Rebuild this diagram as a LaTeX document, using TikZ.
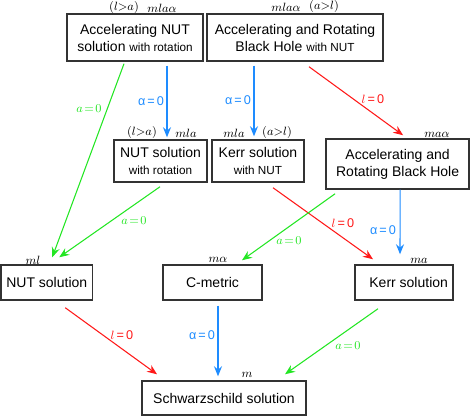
\documentclass[tikz,border=0pt]{standalone}
\usepackage{amsmath}
\usepackage{amssymb}
\usepackage{fontspec}
\setsansfont{Liberation Sans}
\usetikzlibrary{arrows.meta,calc}

\definecolor{ared}{RGB}{255,25,25}
\definecolor{agreen}{RGB}{35,230,35}
\definecolor{ablue}{RGB}{30,140,255}

\newcommand{\smalltxt}[1]{{\fontsize{8.8}{10}\selectfont #1}}

\tikzset{
  box/.style={draw=black!80, line width=1.1pt, inner sep=0pt, align=center,
    font=\sffamily\fontsize{10.5}{12.75}\selectfont},
  arr/.style={line width=0.8pt, -{Stealth[length=7.5pt,width=6pt,inset=2.5pt]}},
  mlab/.style={inner sep=0pt, font=\fontsize{9}{10}\selectfont},
  glab/.style={inner sep=0pt, text=agreen, font=\fontsize{9.5}{11}\selectfont},
  slab/.style={inner sep=0pt, font=\sffamily\fontsize{9.5}{11}\selectfont},
}

\begin{document}
\begin{tikzpicture}[x=0.75pt,y=0.75pt,yscale=-1,xscale=1]
\useasboundingbox (0,0) rectangle (470,416);

% Boxes
\draw (135,37.5) node [box, minimum width=102pt, minimum height=35.25pt] (b1) {Accelerating NUT\\solution \smalltxt{with rotation}};
\draw (295,37.5) node [box, minimum width=132pt, minimum height=35.25pt] (b2) {Accelerating and Rotating\\Black Hole \smalltxt{with NUT}};
\draw (160.5,161) node [box, minimum width=69.75pt, minimum height=31.5pt] (b3) {NUT solution\\\smalltxt{with rotation}};
\draw (258,161) node [box, minimum width=69pt, minimum height=31.5pt] (b4) {Kerr solution\\\smalltxt{with NUT}};
\draw (397.6,164) node [box, minimum width=107.4pt, minimum height=37.5pt] (b5) {Accelerating and\\Rotating Black Hole};
\draw (46.75,282.5) node [box, minimum width=68.9pt, minimum height=26.25pt] (b6) {NUT solution};
\draw (212.5,282.5) node [box, minimum width=74.25pt, minimum height=26.25pt] (b7) {C-metric};
\draw (404,282.5) node [box, minimum width=73.5pt, minimum height=26.25pt] (b8) {\hspace{7pt}Kerr solution};
\draw (224,398) node [box, minimum width=123pt, minimum height=25.5pt] (b9) {Schwarzschild solution};

% Parameters above the boxes
\draw (124,8) node [mlab] (p1a) {$(l{>}a)$};
\draw (162,8) node [mlab] (p1b) {$mla\alpha$};
\draw (286,7) node [mlab] (p2a) {$mla\alpha$};
\draw (324,7) node [mlab] (p2b) {$(a{>}l)$};
\draw (142,133) node [mlab] (p3a) {$(l{>}a)$};
\draw (186,133) node [mlab] (p3b) {$mla$};
\draw (234,133) node [mlab] (p4a) {$mla$};
\draw (277,133) node [mlab] (p4b) {$(a{>}l)$};
\draw (437,135) node [mlab] (p5) {$ma\alpha$};
\draw (33,260) node [mlab] (p6) {$ml$};
\draw (218,260) node [mlab] (p7) {$m\alpha$};
\draw (419,261) node [mlab] (p8) {$ma$};
\draw (247,375) node [mlab] (p9) {$m$};

% alpha = 0
\draw [arr, ablue] ($(b1.south)+(32,4)$) -- ($(b3.north)+(6.5,-2)$);
\draw [arr, ablue] ($(b2.south)+(-41,4)$) -- ($(b4.north)+(-4,-3)$);
\draw [arr, ablue] ($(b5.south)+(2.5,0)$) -- ($(b8.north)+(-4,-10)$);
\draw [arr, ablue] ($(b7.south)+(5.5,5)$) -- ($(b9.north)+(-6,-4)$);
% l = 0
\draw [arr, ared] ($(b2.south)+(14,5)$) -- ($(b5.north)+(5.5,-3)$);
\draw [arr, ared] ($(b4.south)+(15,5)$) -- ($(b8.north)+(-31,-5)$);
\draw [arr, ared] ($(b6.south)+(18.5,7)$) -- ($(b9.north)+(-67,-6)$);
% a = 0
\draw [arr, agreen] ($(b1.south)+(-11,2)$) -- ($(b6.north)+(5.5,-7)$);
\draw [arr, agreen] ($(b3.south)+(-0.5,4)$) -- ($(b6.north)+(12.5,-7)$);
\draw [arr, agreen] ($(b5.south)+(-62.5,4)$) -- ($(b7.north)+(29.5,-4)$);
\draw [arr, agreen] ($(b8.south)+(-26,8)$) -- ($(b9.north)+(61,-6)$);

% Edge labels
\draw (151,101) node [slab, text=ablue] (e1) {α\,=\,0};
\draw (238,100) node [slab, text=ablue] (e2) {α\,=\,0};
\draw (383,230) node [slab, text=ablue] (e3) {α\,=\,0};
\draw (202,335) node [slab, text=ablue] (e4) {α\,=\,0};
\draw (373,99) node [slab, text=ared] (e5) {$l$\,=\,0};
\draw (343,223) node [slab, text=ared] (e6) {$l$\,=\,0};
\draw (122,335) node [slab, text=ared] (e7) {$l$\,=\,0};
\draw (89,109) node [glab] (e8) {$a\!=\!0$};
\draw (134,221) node [glab] (e9) {$a\!=\!0$};
\draw (289,241) node [glab] (e10) {$a\!=\!0$};
\draw (348,346) node [glab] (e11) {$a\!=\!0$};

\end{tikzpicture}
\end{document}
